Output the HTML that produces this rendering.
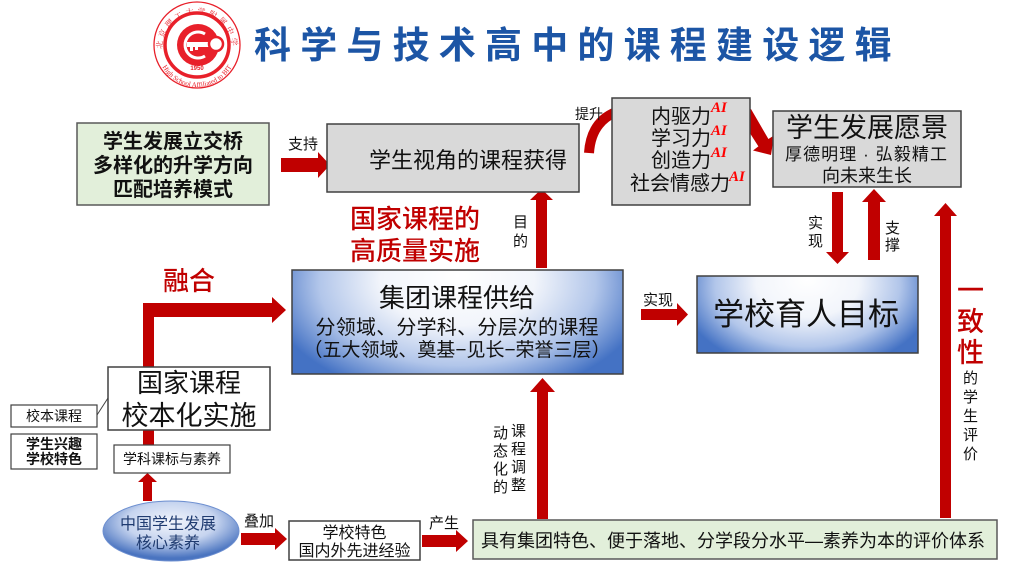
<!DOCTYPE html>
<html><head><meta charset="utf-8">
<style>
html,body{margin:0;padding:0;background:#fff;}
svg{display:block;font-family:"Liberation Sans","Noto Sans CJK SC",sans-serif;}
</style></head>
<body>
<svg width="1028" height="578" viewBox="0 0 1028 578" xmlns="http://www.w3.org/2000/svg">
<defs>
  <radialGradient id="bg" cx="0.5" cy="0.15" r="0.58" fx="0.5" fy="0.1" gradientTransform="translate(0.5,0.15) scale(1,1.9) translate(-0.5,-0.15)">
    <stop offset="0" stop-color="#ffffff"/>
    <stop offset="0.4" stop-color="#f2f5fb"/>
    <stop offset="0.72" stop-color="#b2c6ea"/>
    <stop offset="1" stop-color="#4472c4"/>
  </radialGradient>
  <radialGradient id="eg" cx="0.5" cy="0.35" r="0.6">
    <stop offset="0" stop-color="#f3f6fc"/>
    <stop offset="0.55" stop-color="#c6d4ef"/>
    <stop offset="1" stop-color="#4a74c0"/>
  </radialGradient>
  <path id="topArc" d="M -35 4 A 35 35 0 1 1 35 4"/>
  <path id="botArc" d="M -40 2 A 40 40 0 0 0 40 2"/>
</defs>
<rect width="1028" height="578" fill="#fff"/>

<!-- Logo -->
<g transform="translate(197,45)">
  <circle r="43" fill="#fff" stroke="#e8202a" stroke-width="1.3"/>
  <circle r="32" fill="none" stroke="#e8202a" stroke-width="3.5"/>
  <circle cx="1" cy="0" r="21" fill="#e8202a"/>
  <path d="M 8 -11 A 13 13 0 1 0 8 11" fill="none" stroke="#fff" stroke-width="3"/>
  <rect x="-10" y="-3" width="24" height="5" fill="#fff"/>
  <rect x="-7" y="2" width="3" height="4" fill="#fff"/>
  <rect x="-2" y="2" width="3" height="3" fill="#fff"/>
  <circle cx="19" cy="-1" r="7" fill="#fff" stroke="#e8202a" stroke-width="2.5"/>
  <text x="0" y="25" font-size="6" fill="#e8202a" text-anchor="middle" font-weight="bold">1950</text>
  <text font-size="8" fill="#e8202a" font-family="'Noto Serif CJK SC',serif"><textPath href="#topArc" startOffset="50%" text-anchor="middle" letter-spacing="3">北京理工大学附属中学</textPath></text>
  <text font-size="7" fill="#e8202a" font-family="'Liberation Serif',serif"><textPath href="#botArc" startOffset="50%" text-anchor="middle">High School Affiliated to BIT</textPath></text>
</g>

<!-- Title -->
<text x="254" y="58" font-size="37" font-weight="bold" fill="#1c55a5" letter-spacing="9.2">科学与技术高中的课程建设逻辑</text>

<!-- Arrows (drawn under boxes) -->
<g fill="#c00000">
  <polygon points="281,158 318,158 318,152 330,165 318,178 318,172 281,172"/>
  <polygon points="641,309 677,309 677,303 688,314.5 677,326 677,320 641,320"/>
  <polygon points="241,533 275,533 275,528 287,539 275,550 275,545 241,545"/>
  <polygon points="422,535 456,535 456,530 468,541 456,552 456,547 422,547"/>
  <polygon points="536,268 547,268 547,200 553,200 541.5,189 530,200 536,200"/>
  <polygon points="537,519 548,519 548,392 555,392 542.5,378 530,392 537,392"/>
  <polygon points="940,518 951,518 951,216 957,216 945.5,203 934,216 940,216"/>
  <polygon points="143,501 152,501 152,482 157,482 147.5,473 138,482 143,482"/>
  <polygon points="868,260 880,260 880,202 886,202 874,189 862,202 868,202"/>
  <polygon points="832,192 843,192 843,252 849,252 837.5,264 826,252 832,252"/>
  <polygon points="143,445 143,303 272,303 272,297 286,310 272,323 272,317 154,317 154,445"/>
  <polygon points="751,109 768.4,139 774,135.5 771,155 753,150.5 758.4,146.4 739,116"/>
</g>
<path d="M 589 153 Q 591 122 616 112" fill="none" stroke="#c00000" stroke-width="10"/>

<!-- Box A -->
<rect x="77" y="123" width="192" height="82" fill="#e2efda" stroke="#595959" stroke-width="1.5"/>
<g font-size="20" font-weight="bold" text-anchor="middle" fill="#111">
  <text x="173" y="148">学生发展立交桥</text>
  <text x="173" y="172">多样化的升学方向</text>
  <text x="173" y="196">匹配培养模式</text>
</g>
<text x="288" y="149" font-size="15" fill="#111">支持</text>

<!-- Box B -->
<rect x="327" y="124" width="252" height="68" fill="#d9d9d9" stroke="#404040" stroke-width="1.5"/>
<text x="369" y="168" font-size="22" fill="#111">学生视角的课程获得</text>
<text x="575" y="119" font-size="14" fill="#111">提升</text>

<!-- Box C -->
<rect x="612" y="98" width="138" height="107" fill="#d9d9d9" stroke="#404040" stroke-width="1.5"/>
<g font-size="20" fill="#111" text-anchor="middle">
  <text x="681" y="123">内驱力</text>
  <text x="681" y="145">学习力</text>
  <text x="681" y="167">创造力</text>
  <text x="680" y="190">社会情感力</text>
</g>
<g font-size="15" fill="#ff0000" font-style="italic" font-weight="bold" font-family="'Liberation Serif',serif">
  <text x="711" y="112">AI</text>
  <text x="711" y="135">AI</text>
  <text x="711" y="157">AI</text>
  <text x="729" y="181">AI</text>
</g>

<!-- Box D -->
<rect x="773" y="111" width="188" height="76" fill="#d9d9d9" stroke="#404040" stroke-width="1.5"/>
<g text-anchor="middle" fill="#111">
  <text x="867" y="137" font-size="27">学生发展愿景</text>
  <text x="866" y="160" font-size="17" textLength="162" lengthAdjust="spacing">厚德明理 · 弘毅精工</text>
  <text x="867" y="182" font-size="18">向未来生长</text>
</g>
<g font-size="15" fill="#111">
  <text x="808" y="228">实</text><text x="808" y="246">现</text>
  <text x="885" y="233">支</text><text x="885" y="250">撑</text>
</g>

<!-- Red labels -->
<g fill="#c00000" font-size="26" font-weight="500">
  <text x="350" y="228">国家课程的</text>
  <text x="350" y="260">高质量实施</text>
  <text x="163" y="290">融合</text>
</g>
<g font-size="15" fill="#111">
  <text x="513" y="227">目</text><text x="513" y="246">的</text>
</g>

<!-- Box F -->
<rect x="292" y="270" width="331" height="104" fill="url(#bg)" stroke="#404040" stroke-width="1.5"/>
<g text-anchor="middle" fill="#111">
  <text x="457" y="307" font-size="26">集团课程供给</text>
  <text x="457" y="334" font-size="20" textLength="283" lengthAdjust="spacing">分领域、分学科、分层次的课程</text>
  <text x="457" y="356" font-size="19" textLength="307" lengthAdjust="spacing">（五大领域、奠基−见长−荣誉三层）</text>
</g>

<!-- Box E -->
<rect x="697" y="276" width="221" height="77" fill="url(#bg)" stroke="#404040" stroke-width="1.5"/>
<text x="713" y="325" font-size="31" fill="#111">学校育人目标</text>
<text x="643" y="305" font-size="15" fill="#111">实现</text>

<!-- 一致性 -->
<g fill="#c00000" font-size="27" font-weight="500">
  <text x="957" y="300">一</text>
  <text x="957" y="331">致</text>
  <text x="957" y="362">性</text>
</g>
<g font-size="15" fill="#111">
  <text x="963" y="383">的</text>
  <text x="963" y="402">学</text>
  <text x="963" y="421">生</text>
  <text x="963" y="440">评</text>
  <text x="963" y="459">价</text>
</g>

<!-- Box G and side boxes -->
<rect x="108" y="367" width="162" height="63" fill="#fff" stroke="#404040" stroke-width="1.5"/>
<g text-anchor="middle" fill="#111">
  <text x="189" y="392" font-size="26">国家课程</text>
  <text x="189" y="425" font-size="27">校本化实施</text>
</g>
<rect x="11" y="405" width="86" height="22" fill="#fff" stroke="#404040" stroke-width="1.2"/>
<text x="54" y="421" font-size="14" text-anchor="middle" fill="#111">校本课程</text>
<line x1="97" y1="415" x2="108" y2="398" stroke="#404040" stroke-width="1"/>
<rect x="11" y="434" width="86" height="35" fill="#fff" stroke="#404040" stroke-width="1.2"/>
<g font-size="14" text-anchor="middle" fill="#111" font-weight="bold">
  <text x="54" y="449">学生兴趣</text>
  <text x="54" y="464">学校特色</text>
</g>
<rect x="114" y="445" width="116" height="28" fill="#fff" stroke="#404040" stroke-width="1.2"/>
<text x="172" y="464" font-size="14" text-anchor="middle" fill="#111">学科课标与素养</text>

<!-- Ellipse -->
<ellipse cx="171" cy="531" rx="68" ry="30" fill="url(#eg)" stroke="#6d8fd0" stroke-width="1"/>
<g font-size="16" text-anchor="middle" fill="#1f3b70">
  <text x="168" y="529">中国学生发展</text>
  <text x="168" y="548">核心素养</text>
</g>
<text x="244" y="526" font-size="15" fill="#111">叠加</text>

<!-- 学校特色 box -->
<rect x="289" y="521" width="131" height="39" fill="#fff" stroke="#404040" stroke-width="1.5"/>
<g font-size="16" text-anchor="middle" fill="#111">
  <text x="354.5" y="538">学校特色</text>
  <text x="354.5" y="556">国内外先进经验</text>
</g>
<text x="429" y="528" font-size="15" fill="#111">产生</text>

<!-- Box H -->
<rect x="473" y="520" width="524" height="39" fill="#e2efda" stroke="#595959" stroke-width="1.5"/>
<text x="481" y="547" font-size="18" fill="#111" textLength="504" lengthAdjust="spacing">具有集团特色、便于落地、分学段分水平—素养为本的评价体系</text>

<!-- 动态化的 课程调整 -->
<g font-size="15" fill="#111">
  <text x="511" y="436">课</text><text x="511" y="454">程</text><text x="511" y="472">调</text><text x="511" y="490">整</text>
  <text x="493" y="438">动</text><text x="493" y="456">态</text><text x="493" y="474">化</text><text x="493" y="492">的</text>
</g>
</svg>
</body></html>
